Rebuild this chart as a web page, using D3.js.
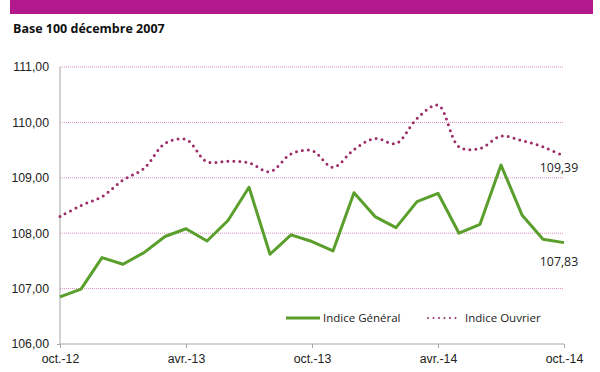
<!DOCTYPE html>
<html>
<head>
<meta charset="utf-8">
<script src="https://cdn.jsdelivr.net/npm/d3@7"></script>
<style>
  body { margin: 0; background: #fff; }
  svg { display: block; font-family: "Open Sans", "DejaVu Sans", sans-serif; }
  .axis path, .axis line { stroke: #a6a6a6; }
  .axis text { fill: #222; font-size: 12.3px; }
</style>
</head>
<body>
<svg id="chart" width="600" height="372"></svg>
<script>
/**
 * Monthly indices, base 100 december 2007.
 */
const months = ['oct.-12', 'nov.-12', 'déc.-12', 'janv.-13', 'févr.-13', 'mars-13', 'avr.-13',
    'mai-13', 'juin-13', 'juil.-13', 'août-13', 'sept.-13', 'oct.-13', 'nov.-13', 'déc.-13',
    'janv.-14', 'févr.-14', 'mars-14', 'avr.-14', 'mai-14', 'juin-14', 'juil.-14', 'août-14',
    'sept.-14', 'oct.-14'];
const indiceGeneral = [106.85, 106.99, 107.56, 107.44, 107.65, 107.94, 108.08, 107.86, 108.23,
    108.83, 107.62, 107.97, 107.85, 107.68, 108.73, 108.30, 108.10, 108.57, 108.72, 108.00,
    108.16, 109.23, 108.33, 107.89, 107.83];
const indiceOuvrier = [108.30, 108.50, 108.66, 108.96, 109.17, 109.62, 109.69, 109.29, 109.30,
    109.27, 109.11, 109.43, 109.49, 109.19, 109.51, 109.71, 109.62, 110.07, 110.31, 109.56,
    109.53, 109.75, 109.67, 109.56, 109.39];
const yTicks = [106, 107, 108, 109, 110, 111];
const xTickLabels = ['oct.-12', 'avr.-13', 'oct.-13', 'avr.-14', 'oct.-14'];
const title = 'Base 100 décembre 2007';

/**
 * Visual configs.
 */
const margin = { top: 67, right: 36, bottom: 28, left: 60 },
    svgWidth = 600, svgHeight = 372,
    width = svgWidth - margin.left - margin.right,
    height = svgHeight - margin.top - margin.bottom,
    green = '#5a9e2c',
    purple = '#9c2d66',
    gridColor = '#d98cc0';

const fmt = v => d3.format('.2f')(v).replace('.', ',');

const svg = d3.select('#chart');

// Header band
svg.append('rect')
    .attr('x', 10).attr('y', 0)
    .attr('width', 583).attr('height', 14)
    .attr('fill', '#b3198d');

svg.append('text')
    .attr('x', 13).attr('y', 33)
    .attr('font-size', 12.5)
    .attr('font-weight', 'bold')
    .attr('fill', '#111')
    .text(title);

const g = svg.append('g')
    .attr('transform', 'translate(' + margin.left + ',' + margin.top + ')');

const xScale = d3.scalePoint().domain(months).range([0, width]);
const yScale = d3.scaleLinear().domain([106, 111]).range([height, 0]);

// Grid lines
g.append('g').attr('class', 'grid')
    .selectAll('line')
    .data(yTicks.filter(d => d > 106))
    .join('line')
    .attr('x1', 0).attr('x2', width)
    .attr('y1', d => yScale(d)).attr('y2', d => yScale(d))
    .attr('stroke', gridColor)
    .attr('stroke-width', 1)
    .attr('stroke-dasharray', '1 1');

// Axes
const yAxis = d3.axisLeft(yScale).tickValues(yTicks).tickFormat(fmt).tickSize(3).tickPadding(8);
const yAxisG = g.append('g').attr('class', 'axis').call(yAxis);
yAxisG.select('.domain').attr('d', 'M0,0V' + height);
yAxisG.selectAll('.tick').filter(d => d !== 106).select('line').remove();

const xAxis = d3.axisBottom(xScale).tickValues(xTickLabels).tickSize(4).tickPadding(6);
const xAxisG = g.append('g').attr('class', 'axis')
    .attr('transform', 'translate(0,' + height + ')')
    .call(xAxis);
xAxisG.select('.domain').attr('d', 'M0,0H' + width);

// Lines
const lineGeneral = d3.line()
    .x((d, i) => xScale(months[i]))
    .y(d => yScale(d));
const lineOuvrier = d3.line()
    .x((d, i) => xScale(months[i]))
    .y(d => yScale(d))
    .curve(d3.curveCatmullRom.alpha(0.5));

g.append('path')
    .datum(indiceOuvrier)
    .attr('fill', 'none')
    .attr('stroke', purple)
    .attr('stroke-width', 3)
    .attr('stroke-linecap', 'round')
    .attr('stroke-dasharray', '0 6')
    .attr('d', lineOuvrier);

g.append('path')
    .datum(indiceGeneral)
    .attr('fill', 'none')
    .attr('stroke', green)
    .attr('stroke-width', 3)
    .attr('stroke-linejoin', 'round')
    .attr('d', lineGeneral);

// End labels
const last = months.length - 1;
g.append('text')
    .attr('x', xScale(months[last]) - 5).attr('y', yScale(indiceOuvrier[last]) + 16)
    .attr('text-anchor', 'middle')
    .attr('font-size', 12.3).attr('fill', '#222')
    .text(fmt(indiceOuvrier[last]));
g.append('text')
    .attr('x', xScale(months[last]) - 5).attr('y', yScale(indiceGeneral[last]) + 23)
    .attr('text-anchor', 'middle')
    .attr('font-size', 12.3).attr('fill', '#222')
    .text(fmt(indiceGeneral[last]));

// Legend
const legend = svg.append('g').attr('class', 'legend').attr('font-size', 11.5).attr('fill', '#222');
legend.append('line')
    .attr('x1', 286).attr('x2', 320).attr('y1', 318).attr('y2', 318)
    .attr('stroke', green).attr('stroke-width', 3);
legend.append('text').attr('x', 323).attr('y', 322).text('Indice Général');
legend.append('line')
    .attr('x1', 428).attr('x2', 460).attr('y1', 318).attr('y2', 318)
    .attr('stroke', purple).attr('stroke-width', 2)
    .attr('stroke-linecap', 'round').attr('stroke-dasharray', '0 5.5');
legend.append('text').attr('x', 465).attr('y', 322).text('Indice Ouvrier');
</script>
</body>
</html>
